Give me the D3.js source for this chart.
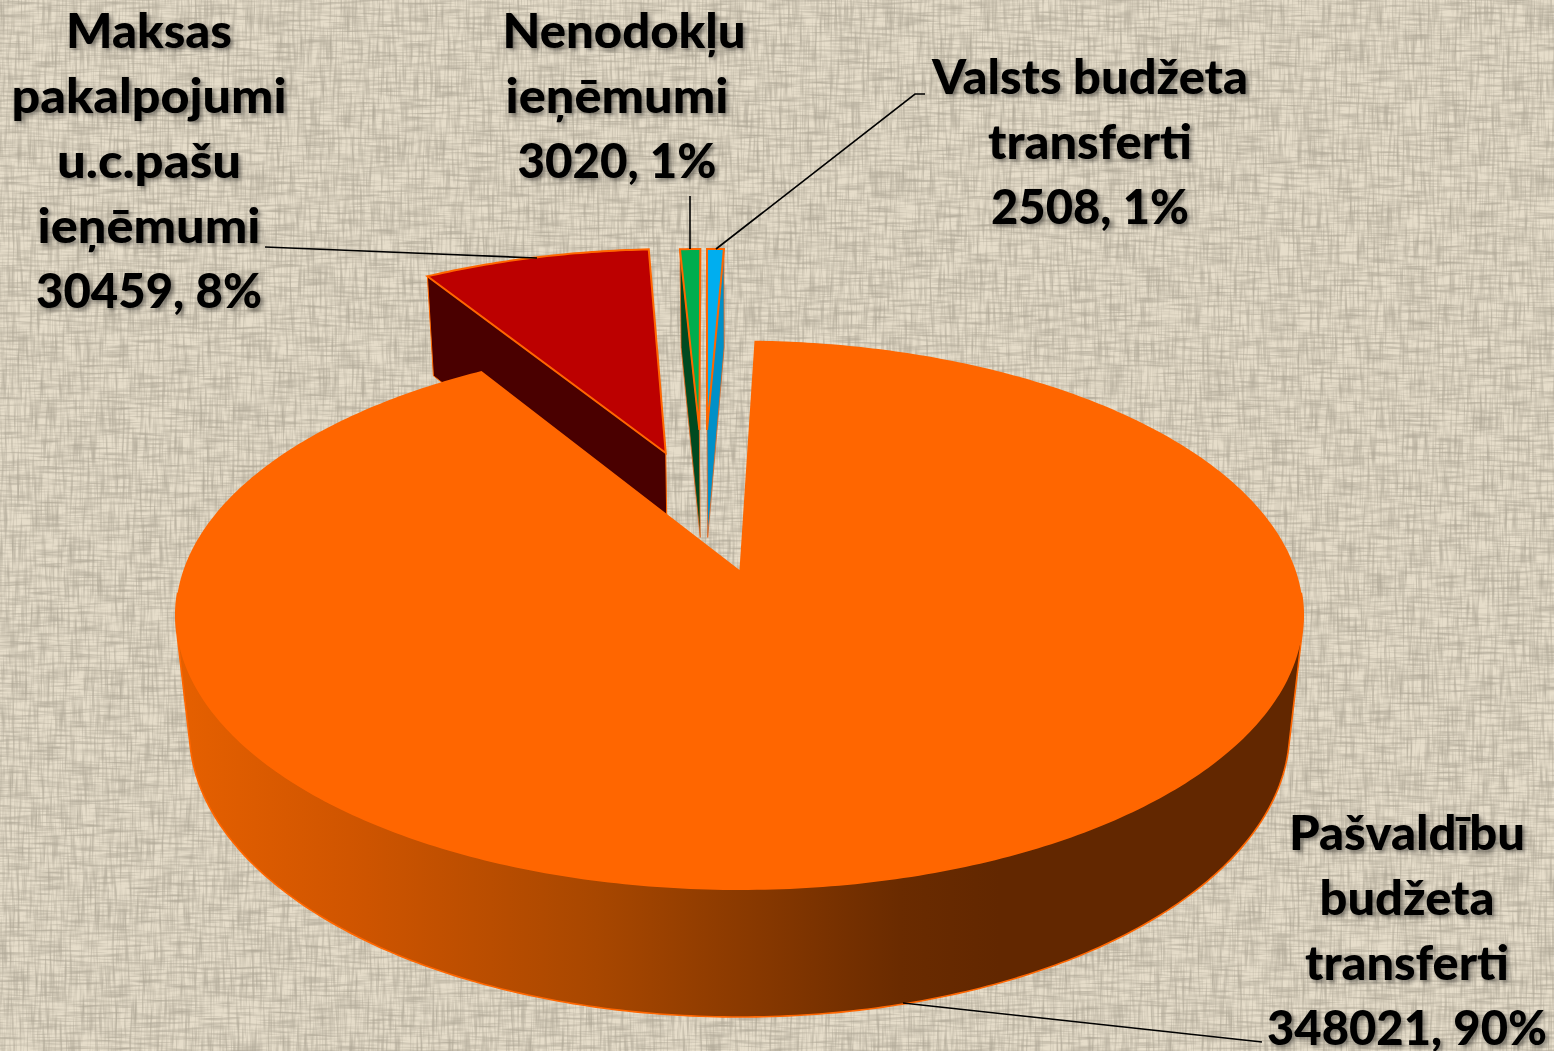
<!DOCTYPE html>
<html><head><meta charset="utf-8">
<script src="https://cdn.jsdelivr.net/npm/d3@7"></script>
<style>html,body{margin:0;padding:0;background:#dfd5c2;overflow:hidden}svg{display:block}
text{font-family:Lato,"Open Sans",sans-serif;font-weight:900;fill:#000;text-anchor:middle;dominant-baseline:central}</style>
</head><body><svg id="c" width="1554" height="1051"></svg>
<script>
const categories = ["Pašvaldību budžeta transferti","Maksas pakalpojumi u.c.pašu ieņēmumi","Nenodokļu ieņēmumi","Valsts budžeta transferti"];
const values = [348021, 30459, 3020, 2508];
const percents = [90, 8, 1, 1];
const topColors = ["#ff6600","#bc0000","#00ad4e","#00aeef"];
const wallColors = ["#ff6600","#4a0000","#004a20","#0090c8"];
const wallEdge = [null,"start","start","end"];

const W=1554,H=1051, svg=d3.select("#c");
const defs=svg.append("defs");
// perspective model of the pie
const cx=739.5, cy=570, R=556, Hv=267.2, k=0.165, D=116.8, m=0.024;
const explodeOffset=[[0,0],[-0.143,-0.472],[-0.079,-0.5735],[-0.064,-0.5735]];
const sliceRadius=[1,1.026,0.925,0.925];
const startDeg=1.8;
const rad=d=>d*Math.PI/180;
const arcs=d3.pie().sort(null).startAngle(rad(startDeg)).endAngle(rad(startDeg+360)).value(d=>d)(values);
const project=(u,v,z)=>{const w=1-k*v+m*z;return [cx+R*u/w, cy+(Hv*v+D*z)/w];};
const pt=(a,ang,r,z)=>{const o=explodeOffset[a.index], s=sliceRadius[a.index];return project(o[0]+s*r*Math.sin(ang), o[1]-s*r*Math.cos(ang), z);};
const line=d3.line();
const rim=(a,z,from,to)=>{const s0=from===undefined?a.startAngle:from, s1=to===undefined?a.endAngle:to;
  const n=Math.max(4,Math.ceil((s1-s0)*80));
  return d3.range(n+1).map(i=>pt(a,s0+(s1-s0)*i/n,1,z));};

// background linen texture
function weave(id,fx,fy,seed,slope,icpt){
  const f=defs.append("filter").attr("id",id).attr("x",0).attr("y",0).attr("width","100%").attr("height","100%");
  f.append("feTurbulence").attr("type","fractalNoise").attr("baseFrequency",fx+" "+fy).attr("numOctaves",2).attr("seed",seed);
  f.append("feColorMatrix").attr("values","0 0 0 0 0.42  0 0 0 0 0.38  0 0 0 0 0.30  "+slope+" 0 0 0 "+icpt);
}
weave("wa",0.03,0.4,3,1.7,-0.68);
weave("wb",0.4,0.03,8,1.7,-0.68);
svg.append("rect").attr("width",W).attr("height",H).attr("fill","#e6ddca");
svg.append("rect").attr("width",W).attr("height",H).attr("filter","url(#wa)");
svg.append("rect").attr("width",W).attr("height",H).attr("filter","url(#wb)");

// side gradient of the big slice
const g=defs.append("linearGradient").attr("id","side").attr("gradientUnits","userSpaceOnUse").attr("x1",176).attr("x2",1000).attr("y1",0).attr("y2",0);
[[0,"#e66000"],[0.21,"#d05500"],[0.51,"#a84700"],[0.88,"#6a2b00"],[1,"#622700"]].forEach(s=>g.append("stop").attr("offset",s[0]).attr("stop-color",s[1]));

const pie=svg.append("g");
// small slices first, big slice paints over them
[1,2,3].forEach(i=>{
  const a=arcs[i], ang=wallEdge[i]==="start"?a.startAngle:a.endAngle;
  const wall=[pt(a,ang,0,0),pt(a,ang,1,0),pt(a,ang,1,1),pt(a,ang,0,1)];
  pie.append("path").attr("d",line(wall)+"Z").attr("fill",wallColors[i]).attr("stroke",i===1?"#ff6600":"#e8641a").attr("stroke-width",i===1?1:0.8);
  const top=[pt(a,0,0,0),...rim(a,0)];
  pie.append("path").attr("d",line(top)+"Z").attr("fill",topColors[i]).attr("stroke","#ff6600").attr("stroke-width",2).attr("stroke-linejoin","miter");
});
// big slice: front wall (hull of the front part of both rims) and top
const frontA=rad(95), frontB=rad(265);
const hull=d3.polygonHull([...rim(arcs[0],0,frontA,frontB),...rim(arcs[0],1,frontA,frontB)]);
pie.append("path").attr("d",line(hull)+"Z").attr("fill","url(#side)").attr("stroke","#ff6600").attr("stroke-width",1.6);
pie.append("path").attr("d",line([pt(arcs[0],0,0,0),...rim(arcs[0],0)])+"Z").attr("fill",topColors[0]);

// leader lines
const leaders=[[[903,1003],[1262,1042]],[[265,247],[537,258]],[[690,196],[690,249]],[[925,94],[915,94],[716,249]]];
svg.append("g").selectAll("path").data(leaders).join("path").attr("d",d=>line(d)).attr("fill","none").attr("stroke","#000").attr("stroke-width",1.6);

// labels
const labelLines=[["Pašvaldību","budžeta","transferti"],["Maksas","pakalpojumi","u.c.pašu","ieņēmumi"],["Nenodokļu","ieņēmumi"],["Valsts budžeta","transferti"]];
const labelPos=[
 {x:[1407,1407,1407,1407],y:831.5,w:[236,175,204,280]},
 {x:[149,149,149,149,149],y:29.5,w:[166,275,184,223,226]},
 {x:[624,617,617],y:29.5,w:[243,223,199]},
 {x:[1090,1090,1090],y:75.5,w:[316,204,198]}];
const shadow=defs.append("filter").attr("id","ts").attr("x","-10%").attr("y","-20%").attr("width","125%").attr("height","150%");
shadow.append("feDropShadow").attr("dx",2.5).attr("dy",2.5).attr("stdDeviation",2).attr("flood-color","#000").attr("flood-opacity",0.45);
const lab=svg.append("g").attr("filter","url(#ts)");
labelLines.forEach((ls,i)=>{
  const all=[...ls,values[i]+", "+percents[i]+"%"], p=labelPos[i];
  all.forEach((t,j)=>lab.append("text").attr("x",p.x[j]).attr("y",p.y+j*65).attr("font-size",48)
    .attr("textLength",p.w[j]).attr("lengthAdjust","spacingAndGlyphs").text(t));
});
</script></body></html>
